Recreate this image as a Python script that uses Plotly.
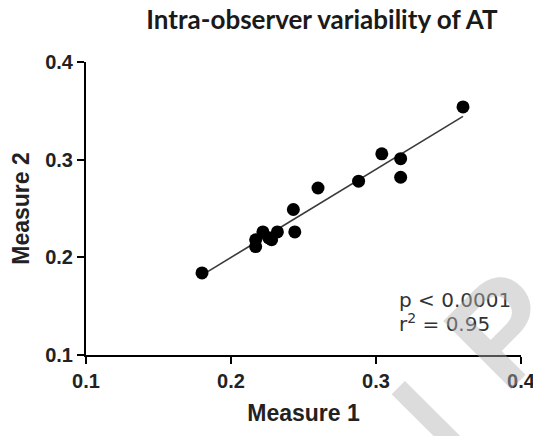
import numpy as np
import plotly.graph_objects as go

measure1 = [0.180, 0.217, 0.217, 0.222, 0.226, 0.228, 0.232, 0.243, 0.244, 0.260, 0.288, 0.304, 0.317, 0.317, 0.360]
measure2 = [0.184, 0.218, 0.211, 0.226, 0.220, 0.218, 0.226, 0.249, 0.226, 0.271, 0.278, 0.306, 0.301, 0.282, 0.354]
tick_vals = [0.1, 0.2, 0.3, 0.4]
tick_text = ["0.1", "0.2", "0.3", "0.4"]

x = np.array(measure1)
y = np.array(measure2)
slope, intercept = np.polyfit(x, y, 1)
fit_x = [x.min(), x.max()]
fit_y = [slope * v + intercept for v in fit_x]

wm_color = "rgba(178,178,178,0.45)"

fig = go.Figure()
fig.add_trace(go.Scatter(x=fit_x, y=fit_y, mode="lines",
                         line=dict(color="#3a3a3a", width=1.6), hoverinfo="skip"))
fig.add_trace(go.Scatter(x=measure1, y=measure2, mode="markers",
                         marker=dict(color="black", size=13, line=dict(width=0))))

axis_common = dict(
    tickvals=tick_vals, ticktext=tick_text, range=[0.1, 0.4], automargin=False,
    showgrid=False, zeroline=False, showline=True, linecolor="black", linewidth=2,
    ticks="outside", ticklen=7, tickwidth=2, tickcolor="black",
    tickfont=dict(family="Liberation Sans, Arial", size=20, color="#222222", weight="bold"),
)

fig.update_layout(
    width=533, height=428,
    margin=dict(l=78, r=20, t=54, b=81),
    paper_bgcolor="white", plot_bgcolor="white",
    showlegend=False,
    title=dict(text="<b>Intra-observer variability of AT</b>", x=0.589, xanchor="center",
               y=0.972, yanchor="middle",
               font=dict(family="Lato, Open Sans", size=26, color="#1a1a1a")),
    xaxis=dict(**axis_common,
               title=dict(text="<b>Measure 1</b>", standoff=14,
                          font=dict(family="Liberation Sans, Arial", size=23, color="#222222"))),
    yaxis=dict(**axis_common,
               title=dict(text="<b>Measure 2</b>", standoff=9,
                          font=dict(family="Liberation Sans, Arial", size=23, color="#222222"))),
    annotations=[
        dict(text="p < 0.0001", xref="paper", yref="paper",
             x=0.715, y=(355 - 300) / 293, xanchor="left", yanchor="middle", align="left", showarrow=False,
             font=dict(family="DejaVu Sans", size=20, color="#333333")),
        dict(text="r<sup>2</sup> = 0.95", xref="paper", yref="paper",
             x=0.715, y=(355 - 323) / 293, xanchor="left", yanchor="middle", align="left", showarrow=False,
             font=dict(family="DejaVu Sans", size=20, color="#333333")),
        dict(text="I", xref="paper", yref="paper", x=0.79, y=-0.22, xanchor="center", yanchor="middle",
             showarrow=False, textangle=-45,
             font=dict(family="Liberation Sans, Arial", size=130, color=wm_color, weight="bold")),
        dict(text="P", xref="paper", yref="paper", x=0.96, y=0.09, xanchor="center", yanchor="middle",
             showarrow=False, textangle=-45,
             font=dict(family="Liberation Sans, Arial", size=140, color=wm_color, weight="bold")),
    ],
)

fig.write_html("out.html")
